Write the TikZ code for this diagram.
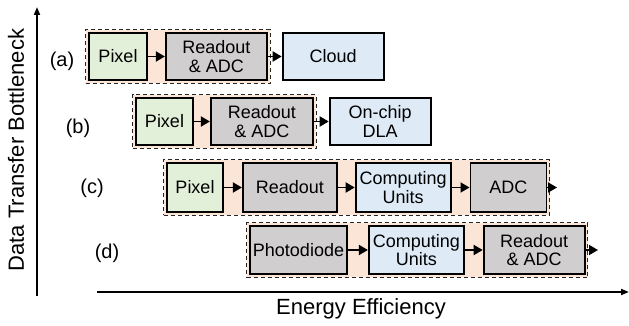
\documentclass[tikz,border=0pt]{standalone}
\usepackage{fontspec}
\setmainfont{Liberation Sans}
\usepackage{tikz}
\usetikzlibrary{arrows.meta,positioning,fit,backgrounds}
\definecolor{verdepix}{HTML}{E2EFD9}
\definecolor{cinzaro}{HTML}{D0CECE}
\definecolor{azulcomp}{HTML}{DEEBF7}
\definecolor{pessego}{HTML}{FBE5D6}

\begin{document}
\begin{tikzpicture}[
	x=1pt, y=-1pt,
	font=\fontsize{18}{18.5}\selectfont,
	>={Triangle[length=9pt,width=10pt]},
	node distance=17pt,
	caixa/.style={rectangle, draw=black, line width=1.8pt, minimum height=47pt, inner sep=1pt, align=center},
	pix/.style={caixa, fill=verdepix},
	cinza/.style={caixa, fill=cinzaro},
	azul/.style={caixa, fill=azulcomp},
	grupo/.style={draw=black!85, dash pattern=on 4pt off 3pt, line width=1.1pt, fill=pessego, inner sep=2.4pt},
	rot/.style={font=\fontsize{20}{22}\selectfont},
	eixo/.style={font=\fontsize{22}{24}\selectfont},
	seta/.style={->, line width=1.8pt},
]
\useasboundingbox (0,0) rectangle (629,326);

% (a)
\node[pix, minimum width=58pt]    (pixa) at (118,56.5) {Pixel};
\node[cinza, minimum width=101pt] (roa) [right=17pt of pixa] {Readout\\\& ADC};
\node[azul, minimum width=101pt]  (cloud) [right=14pt of roa] {Cloud};
\node[rot] (la) at (62,61) {(a)};

% (b)
\node[pix, minimum width=57pt]    (pixb) at (164.5,121.5) {Pixel};
\node[cinza, minimum width=102pt] (rob) [right=16pt of pixb] {Readout\\\& ADC};
\node[azul, minimum width=101pt]  (dla) [right=15pt of rob] {On-chip\\DLA};
\node[rot] (lb) at (78,128) {(b)};

% (c)
\node[pix, minimum width=56pt, minimum height=49pt]   (pixc) at (195,187.5) {Pixel};
\node[cinza, minimum width=94pt, minimum height=49pt] (roc) [right=18pt of pixc] {Readout};
\node[azul, minimum width=95pt, minimum height=49pt]  (cuc) [right=17pt of roc] {Computing\\Units};
\node[cinza, minimum width=76pt, minimum height=49pt] (adcc) [right=18pt of cuc] {ADC};
\node[rot] (lc) at (92,188) {(c)};

% (d)
\node[cinza, minimum width=97pt, minimum height=48pt]  (pdd) at (298.5,250) {Photodiode};
\node[azul, minimum width=95pt, minimum height=48pt]   (cud) [right=20pt of pdd] {Computing\\Units};
\node[cinza, minimum width=101pt, minimum height=48pt] (rod) [right=18pt of cud] {Readout\\\& ADC};
\node[rot] (ld) at (107,253) {(d)};

\begin{scope}[on background layer]
\node[grupo, fit=(pixa)(roa)] (ga) {};
\node[grupo, fit=(pixb)(rob)] (gb) {};
\node[grupo, fit=(pixc)(adcc)] (gc) {};
\node[grupo, fit=(pdd)(rod)] (gd) {};
\end{scope}

\coordinate (fimc) at (557,187.5);
\coordinate (fimd) at (598,250);

\draw[seta] (pixa) -- (roa);
\draw[seta] (roa) -- (cloud);
\draw[seta] (pixb) -- (rob);
\draw[seta] (rob) -- (dla);
\draw[seta] (pixc) -- (roc);
\draw[seta] (roc) -- (cuc);
\draw[seta] (cuc) -- (adcc);
\draw[seta] (adcc) -- (fimc);
\draw[seta] (pdd) -- (cud);
\draw[seta] (cud) -- (rod);
\draw[seta] (rod) -- (fimd);

% eixos
\coordinate (o1) at (37,296);
\coordinate (ytop) at (37,7);
\coordinate (o2) at (97,292);
\coordinate (xend) at (629,292);
\draw[seta, >={Triangle[length=8pt,width=6pt]}] (o1) -- (ytop);
\draw[seta, >={Triangle[length=8pt,width=6pt]}] (o2) -- (xend);
\node[eixo, rotate=90] (ylab) at (16,150) {Data Transfer Bottleneck};
\node[eixo] (xlab) at (361,309) {Energy Efficiency};
\end{tikzpicture}
\end{document}
